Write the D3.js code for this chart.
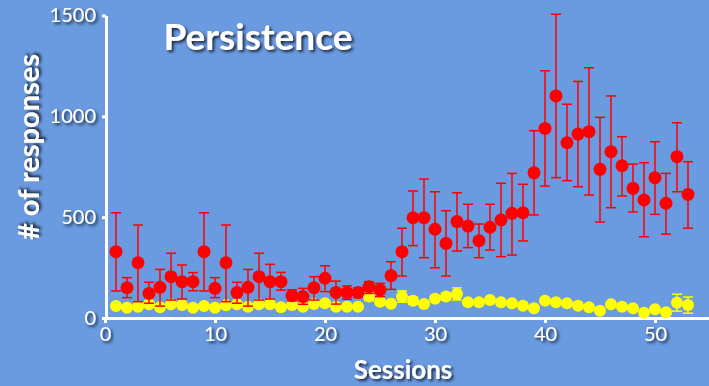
<!DOCTYPE html>
<html>
<head>
<meta charset="utf-8">
<script src="https://cdn.jsdelivr.net/npm/d3@7"></script>
<style>
  html, body { margin: 0; padding: 0; background: #6a9ae0; }
  svg { display: block; }
</style>
</head>
<body>
<svg id="chart" width="709" height="386"></svg>
<script>
// persistence chart: responses per session, two groups
const width = 709;
const height = 386;

const sessions = [1, 2, 3, 4, 5, 6, 7, 8, 9, 10, 11, 12, 13, 14, 15, 16, 17, 18, 19, 20,
    21, 22, 23, 24, 25, 26, 27, 28, 29, 30, 31, 32, 33, 34, 35, 36, 37, 38, 39, 40,
    41, 42, 43, 44, 45, 46, 47, 48, 49, 50, 51, 52, 53];

const redMean = [329, 150, 274, 122, 152, 205, 180, 180, 329, 147, 274, 126, 152, 205, 180, 180,
    111, 106, 150, 197, 127, 126, 126, 155, 139, 210, 329, 497, 497, 440, 370, 478, 456,
    383, 450, 486, 519, 522, 720, 940, 1101, 869, 912, 924, 737, 825, 755, 643, 585, 696, 569, 800, 613];
const redHigh = [522, 200, 461, 177, 241, 321, 263, 225, 522, 200, 461, 177, 241, 321, 266, 226,
    140, 147, 205, 259, 183, 159, 150, 180, 172, 279, 445, 630, 689, 626, 532, 621, 564,
    466, 564, 668, 717, 663, 929, 1226, 1506, 1060, 1173, 1241, 995, 1101, 899, 763, 770, 874, 717, 968, 775];
const redLow = [134, 101, 81, 73, 59, 89, 94, 135, 134, 101, 81, 73, 59, 89, 94, 138,
    85, 68, 89, 131, 69, 93, 102, 122, 106, 142, 208, 359, 299, 249, 208, 332, 349,
    299, 337, 304, 312, 382, 511, 654, 696, 681, 651, 610, 476, 547, 605, 526, 403, 514, 416, 626, 445];

const yellowMean = [59, 51, 56, 68, 53, 68, 64, 51, 59, 51, 63, 68, 56, 68, 68, 53,
    64, 56, 69, 73, 56, 56, 56, 106, 81, 71, 106, 86, 69, 96, 107, 119, 78,
    78, 89, 78, 73, 61, 48, 86, 78, 73, 61, 53, 36, 68, 56, 48, 26, 43, 28, 76, 64];
const yellowErr = [10, 8, 12, 14, 12, 10, 8, 8, 10, 8, 10, 10, 10, 10, 8, 8,
    8, 12, 10, 10, 12, 8, 8, 20, 15, 10, 28, 18, 10, 12, 18, 30, 10,
    10, 8, 8, 8, 8, 8, 10, 8, 8, 8, 8, 8, 8, 8, 8, 8, 10, 8, 42, 40];

const xTicks = [0, 10, 20, 30, 40, 50];
const yTicks = [0, 500, 1000, 1500];

const x = d3.scaleLinear().domain([0, 55]).range([105, 710]);
const y = d3.scaleLinear().domain([0, 1500]).range([318, 15.5]);

const svg = d3.select("#chart");

const defs = svg.append("defs");
const shadow = defs.append("filter").attr("id", "shadow")
    .attr("x", "-20%").attr("y", "-20%").attr("width", "140%").attr("height", "160%");
shadow.append("feDropShadow")
    .attr("dx", 2).attr("dy", 2).attr("stdDeviation", 1.5)
    .attr("flood-color", "#000").attr("flood-opacity", 0.75);

svg.append("rect").attr("width", width).attr("height", height).attr("fill", "#6a9ae0");

// axes
const yAxis = svg.append("g")
    .attr("transform", `translate(${x(0) + 1},0)`)
    .call(d3.axisLeft(y).tickValues(yTicks).tickFormat(d3.format("d"))
        .tickSize(4).tickSizeOuter(0).tickPadding(6));
const xAxis = svg.append("g")
    .attr("transform", `translate(0,${y(0)})`)
    .call(d3.axisBottom(x).tickValues(xTicks).tickFormat(d3.format("d"))
        .tickSize(5).tickSizeOuter(0).tickPadding(4));

[xAxis, yAxis].forEach(g => {
    g.select(".domain").attr("stroke", "#fff").attr("stroke-width", 3);
    g.selectAll(".tick line").attr("stroke", "#fff").attr("stroke-width", 3);
    g.selectAll("text")
        .attr("fill", "#fff")
        .attr("filter", "url(#shadow)")
        .style("font-family", "Lato, 'Open Sans', sans-serif")
        .style("font-size", "20px");
});

function drawSeries(cls, mean, lo, hi, color, r) {
    const g = svg.append("g").attr("class", cls);
    const bars = g.selectAll("g.bar").data(sessions).join("g").attr("class", "bar");
    bars.append("line")
        .attr("x1", (d) => x(d)).attr("x2", (d) => x(d))
        .attr("y1", (d, i) => y(hi[i])).attr("y2", (d, i) => y(lo[i]))
        .attr("stroke", color).attr("stroke-width", 1.5);
    bars.append("line")
        .attr("x1", (d) => x(d) - 5).attr("x2", (d) => x(d) + 5)
        .attr("y1", (d, i) => y(hi[i])).attr("y2", (d, i) => y(hi[i]))
        .attr("stroke", color).attr("stroke-width", 1.5);
    bars.append("line")
        .attr("x1", (d) => x(d) - 5).attr("x2", (d) => x(d) + 5)
        .attr("y1", (d, i) => y(lo[i])).attr("y2", (d, i) => y(lo[i]))
        .attr("stroke", color).attr("stroke-width", 1.5);
    g.selectAll("circle").data(sessions).join("circle")
        .attr("cx", (d) => x(d))
        .attr("cy", (d, i) => y(mean[i]))
        .attr("r", r)
        .attr("fill", color);
}

drawSeries("yellow", yellowMean,
    yellowMean.map((m, i) => m - yellowErr[i]),
    yellowMean.map((m, i) => m + yellowErr[i]),
    "#ffff00", 6);
drawSeries("red", redMean, redLow, redHigh, "#ff0000", 6.5);

// labels
const bold = "Lato, 'Open Sans', sans-serif";
svg.append("text")
    .attr("x", 258).attr("y", 50)
    .attr("text-anchor", "middle")
    .attr("fill", "#fff").attr("filter", "url(#shadow)")
    .style("font-family", bold).style("font-weight", 700).style("font-size", "37px")
    .text("Persistence");

svg.append("text")
    .attr("x", 403).attr("y", 379)
    .attr("text-anchor", "middle")
    .attr("fill", "#fff").attr("filter", "url(#shadow)")
    .style("font-family", bold).style("font-weight", 700).style("font-size", "26px")
    .text("Sessions");

svg.append("text")
    .attr("transform", "translate(39,147) rotate(-90)")
    .attr("text-anchor", "middle")
    .attr("fill", "#fff").attr("filter", "url(#shadow)")
    .style("font-family", bold).style("font-weight", 700).style("font-size", "29px")
    .text("# of responses");
</script>
</body>
</html>
